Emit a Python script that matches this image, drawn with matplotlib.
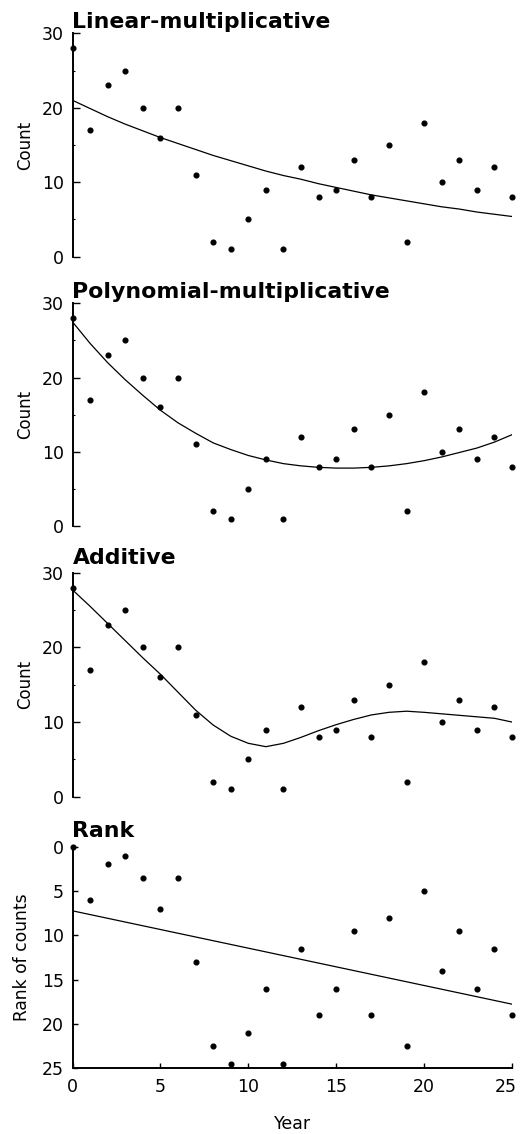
import numpy as np
import matplotlib
matplotlib.use("Agg")
from matplotlib import pyplot as plt
from matplotlib import transforms

plt.rcParams['font.family'] = ['DejaVu Sans']

# datos
years = np.arange(0, 26)
counts = [28, 17, 23, 25, 20, 16, 20, 11, 2, 1, 5, 9, 1, 12, 8, 9, 13, 8, 15, 2, 18, 10, 13, 9, 12, 8]
ranks = [0, 6, 2, 1, 3.5, 7, 3.5, 13, 22.5, 24.5, 21, 16, 24.5, 11.5, 19, 16, 9.5, 19, 8, 22.5,
         5, 14, 9.5, 16, 11.5, 19]

# curvas ajustadas
fit_linear = [21.0, 19.9, 18.8, 17.8, 16.9, 16.0, 15.2, 14.4, 13.6, 12.9, 12.2, 11.5, 10.9, 10.4,
              9.8, 9.3, 8.8, 8.3, 7.9, 7.5, 7.1, 6.7, 6.4, 6.0, 5.7, 5.4]
fit_poly = [27.5, 24.6, 22.0, 19.7, 17.6, 15.6, 13.9, 12.5, 11.2, 10.3, 9.5, 8.9, 8.4, 8.1,
            7.9, 7.8, 7.8, 7.9, 8.1, 8.4, 8.8, 9.3, 9.9, 10.5, 11.3, 12.3]
fit_additive = [27.7, 25.5, 23.2, 20.9, 18.6, 16.4, 14.0, 11.6, 9.6, 8.1, 7.15, 6.7, 7.15, 7.95,
                8.85, 9.65, 10.35, 10.95, 11.3, 11.45, 11.3, 11.1, 10.9, 10.7, 10.5, 10.0]

titles = ["Linear-multiplicative", "Polynomial-multiplicative", "Additive", "Rank"]

W, H = 520, 1134
fig = plt.figure(figsize=(W / 100, H / 100), dpi=100)

tops = [33.3, 303.3, 572.7, 846.7]
heights = [223.4, 222.7, 224.0, 221.6]
title_pads = [3.6, 3.8, 6.2, 7.2]
axes = []
for t, h in zip(tops, heights):
    ax = fig.add_axes([72.5 / W, 1 - (t + h) / H, 439.5 / W, h / H])
    axes.append(ax)

rank_slope, rank_int = np.polyfit(years, ranks, 1)
curves = [fit_linear, fit_poly, fit_additive, rank_int + rank_slope * years]

for i, ax in enumerate(axes):
    yv = ranks if i == 3 else counts
    ax.plot(years, yv, "o", color="black", markersize=3.4, clip_on=False, zorder=3)
    ax.plot(years, curves[i], "-", color="black", linewidth=0.9)
    ax.set_xlim(0, 25)
    for s in ["top", "right"]:
        ax.spines[s].set_visible(False)
    ax.spines["left"].set_linewidth(1.4)
    ax.set_title(titles[i], loc="left", fontsize=15.8, fontweight="bold", pad=title_pads[i])
    if i < 3:
        ax.set_ylim(0, 30)
        ax.set_yticks([0, 10, 20, 30])
        ax.set_yticks([5, 15, 25], minor=True)
        ax.tick_params(axis="y", which="major", direction="in", length=5, width=1,
                       labelsize=12.5, pad=6)
        ax.tick_params(axis="y", which="minor", direction="in", length=1.5, width=0.8)
        ax.spines["bottom"].set_visible(False)
        ax.set_xticks([])
        ax.set_ylabel("Count", fontsize=12)
        ax.yaxis.set_label_coords(-0.088, 0.5)
    else:
        ax.set_ylim(25, 0)
        ax.set_yticks([0, 5, 10, 15, 20, 25])
        ax.set_xticks([0, 5, 10, 15, 20, 25])
        ax.spines["bottom"].set_linewidth(1.4)
        ax.tick_params(axis="both", direction="in", length=3.5, width=1, labelsize=12.5)
        ax.tick_params(axis="y", pad=6)
        ax.tick_params(axis="x", pad=7)
        ax.set_ylabel("Rank of counts", fontsize=12.3)
        ax.yaxis.set_label_coords(-0.095, 0.5)
        ax.set_xlabel("Year", fontsize=12.5, labelpad=14)
        # el ultimo numero queda un poco a la izquierda, como en el original
        last = ax.get_xticklabels()[-1]
        last.set_transform(last.get_transform() +
                           transforms.ScaledTranslation(-6 / 100, 0, fig.dpi_scale_trans))

plt.savefig("out.png", dpi=100)
plt.close()
